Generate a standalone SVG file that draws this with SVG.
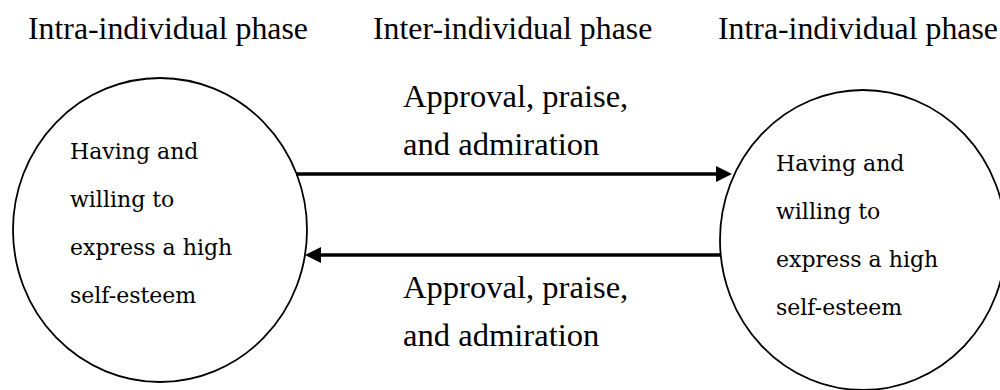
<svg xmlns="http://www.w3.org/2000/svg" width="1000" height="390" viewBox="0 0 1000 390">
<style>
.head{font-family:"Liberation Serif","Times New Roman",serif;font-size:31.8px;fill:#000}
.lab{font-family:"Liberation Serif","Times New Roman",serif;font-size:32.6px;fill:#000}
.body{font-family:"DejaVu Serif",serif;font-size:22px;fill:#000}
.node{fill:#fff;stroke:#000;stroke-width:1.8}
.conn{stroke:#000;stroke-width:3.5;fill:none}
</style>
<defs>
<marker id="ah" markerUnits="userSpaceOnUse" markerWidth="16" markerHeight="16" refX="1" refY="8" orient="auto">
<path d="M0,0 L16,8 L0,16 z" fill="#000"/>
</marker>
</defs>
<rect width="1000" height="390" fill="#fff"/>
<g id="headings">
<text class="head" x="28" y="39">Intra-individual phase</text>
<text class="head" x="373" y="39">Inter-individual phase</text>
<text class="head" x="718" y="39">Intra-individual phase</text>
</g>
<g id="node-left">
<ellipse class="node" cx="160" cy="230" rx="147" ry="152"/>
<text class="body" x="70" y="159">Having and</text>
<text class="body" x="70" y="207">willing to</text>
<text class="body" x="70" y="255">express a high</text>
<text class="body" x="70" y="303">self-esteem</text>
</g>
<g id="node-right">
<ellipse class="node" cx="863" cy="240" rx="143" ry="150"/>
<text class="body" x="776" y="171">Having and</text>
<text class="body" x="776" y="219">willing to</text>
<text class="body" x="776" y="267">express a high</text>
<text class="body" x="776" y="315">self-esteem</text>
</g>
<g id="connectors">
<line class="conn" x1="296" y1="174" x2="717" y2="174" marker-end="url(#ah)"/>
<line class="conn" x1="721" y1="255" x2="320" y2="255" marker-end="url(#ah)"/>
</g>
<g id="labels">
<text class="lab" x="403" y="107">Approval, praise,</text>
<text class="lab" x="403" y="155">and admiration</text>
<text class="lab" x="403" y="298">Approval, praise,</text>
<text class="lab" x="403" y="346">and admiration</text>
</g>
</svg>
